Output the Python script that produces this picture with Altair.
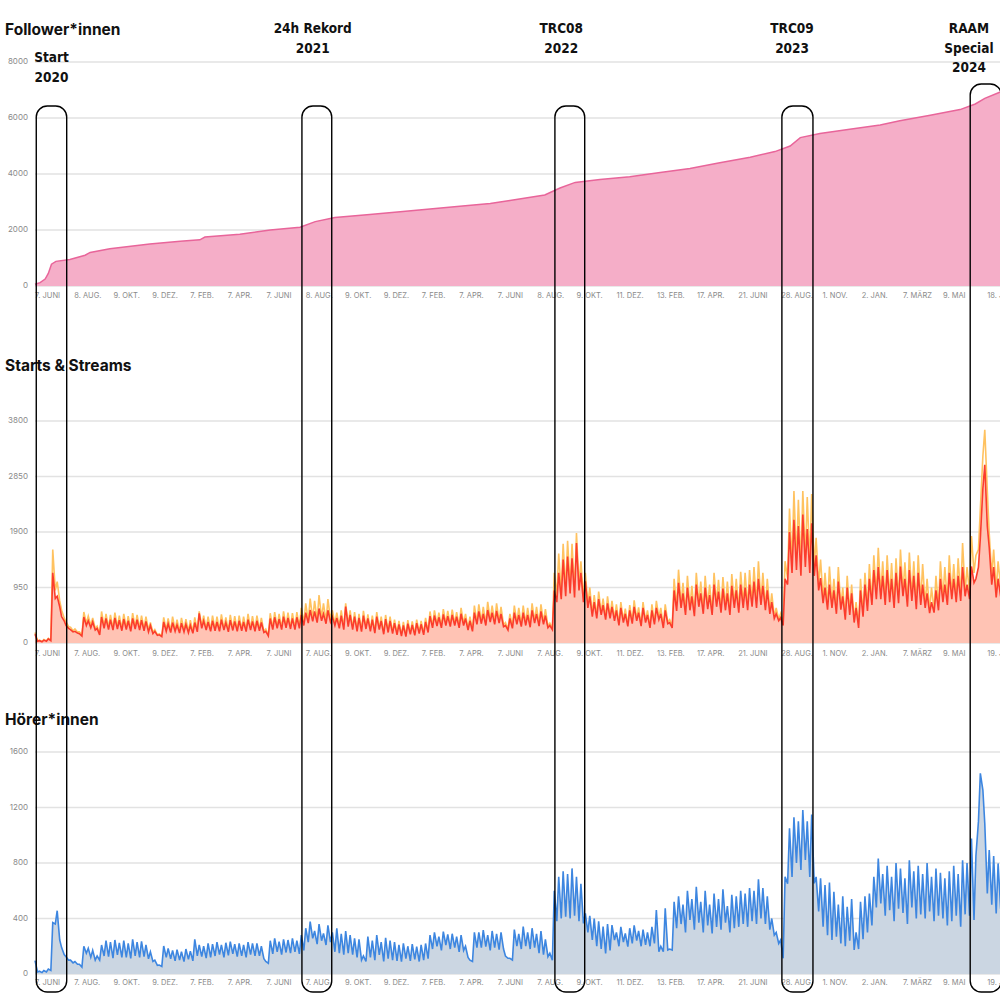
import altair as alt
import pandas as pd

# ---------------- data ----------------
SERIES_START = "2020-06-07"   # first weekly point

# weekly peak / trough values (starts = orange, streams = red, listeners = blue)
RED_PEAK = [
    150, 40, 50, 70, 1200, 800, 450, 300, 230, 200,
    160, 445, 380, 360, 250, 445, 420, 400, 430, 390,
    410, 380, 420, 400, 390, 370, 300, 200, 140, 360,
    330, 350, 310, 340, 320, 300, 350, 507, 380, 360,
    380, 360, 400, 350, 390, 370, 380, 360, 400, 370,
    380, 350, 200, 420, 440, 410, 450, 430, 420, 440,
    480, 520, 565, 540, 590, 500, 560, 450, 430, 470,
    622, 480, 450, 430, 470, 420, 400, 450, 380, 410,
    380, 340, 320, 300, 330, 310, 340, 320, 360, 460,
    470, 440, 490, 460, 480, 450, 500, 420, 380, 520,
    540, 500, 565, 520, 550, 500, 300, 420, 520, 480,
    520, 480, 560, 500, 540, 470, 300, 900, 1200, 1430,
    1480, 1450, 1710, 1200, 1055, 800, 700, 750, 650, 680,
    620, 560, 600, 500, 560, 620, 520, 600, 480, 560,
    600, 500, 560, 350, 900, 1030, 850, 950, 800, 1000,
    850, 950, 820, 1000, 880, 930, 850, 980, 900, 1000,
    950, 1000, 1050, 1100, 980, 900, 700, 500, 430, 1100,
    1900, 2110, 2000, 2200, 1950, 2050, 1500, 1110, 950, 1000,
    900, 1050, 800, 950, 850, 600, 900, 1000, 1100, 1250,
    1300, 1150, 1250, 1100, 1200, 1310, 1100, 1250, 1150, 1200,
    1000, 850, 700, 900, 1100, 1000, 1200, 1100, 1150, 1300,
    1000, 1310, 1100, 1800, 3050, 1640, 1300, 1100, 1000, 900,
]
RED_TROUGH = [
    30, 20, 30, 40, 760, 620, 380, 250, 190, 170,
    120, 300, 260, 220, 137, 250, 230, 220, 240, 210,
    230, 200, 240, 220, 210, 190, 160, 130, 110, 200,
    180, 200, 170, 190, 175, 165, 190, 250, 220, 200,
    210, 200, 220, 190, 215, 200, 210, 195, 220, 200,
    210, 180, 120, 230, 250, 230, 260, 240, 230, 250,
    300, 340, 370, 350, 380, 330, 360, 300, 250, 230,
    280, 230, 200, 194, 240, 200, 170, 230, 150, 180,
    160, 140, 120, 110, 150, 130, 160, 140, 180, 260,
    290, 260, 300, 280, 300, 260, 300, 220, 200, 320,
    330, 300, 360, 320, 340, 280, 222, 250, 320, 280,
    300, 270, 340, 290, 320, 260, 230, 700, 750, 800,
    850, 780, 900, 700, 600, 450, 420, 480, 400, 420,
    380, 300, 350, 285, 330, 380, 290, 350, 260, 320,
    400, 257, 330, 257, 550, 600, 480, 560, 460, 620,
    500, 580, 480, 620, 520, 560, 480, 600, 520, 600,
    560, 620, 600, 650, 560, 500, 420, 380, 300, 1000,
    1200, 1250, 1150, 1300, 1200, 1150, 900, 680, 570, 600,
    500, 570, 400, 480, 350, 257, 450, 550, 650, 750,
    750, 650, 700, 600, 680, 800, 620, 720, 580, 650,
    600, 510, 520, 560, 700, 650, 750, 700, 720, 800,
    750, 1030, 1300, 2650, 2000, 1000, 780, 800, 750, 700,
]
ORANGE_PEAK = [
    180, 50, 60, 80, 1600, 1050, 560, 360, 270, 240,
    190, 530, 460, 430, 290, 540, 500, 480, 520, 470,
    500, 460, 510, 480, 470, 450, 350, 230, 160, 440,
    420, 450, 400, 430, 410, 390, 440, 540, 470, 450,
    470, 450, 490, 440, 480, 460, 470, 450, 500, 460,
    470, 430, 240, 510, 530, 500, 540, 520, 510, 530,
    600, 680, 760, 720, 822, 680, 750, 560, 520, 560,
    679, 560, 530, 500, 550, 490, 470, 530, 450, 480,
    450, 400, 380, 360, 390, 370, 400, 380, 430, 540,
    560, 520, 580, 550, 570, 530, 600, 500, 450, 640,
    660, 620, 705, 640, 680, 620, 350, 500, 640, 600,
    640, 600, 680, 620, 660, 580, 340, 1200, 1530, 1700,
    1750, 1700, 1883, 1400, 1200, 950, 820, 880, 760, 800,
    720, 660, 700, 590, 650, 730, 610, 700, 560, 660,
    720, 600, 660, 400, 1100, 1255, 1030, 1150, 980, 1200,
    1050, 1150, 1000, 1200, 1080, 1130, 1050, 1180, 1100, 1220,
    1200, 1250, 1300, 1400, 1200, 1100, 850, 600, 500, 1400,
    2300, 2600, 2450, 2600, 2500, 2550, 1800, 1430, 1200, 1310,
    1100, 1300, 950, 1150, 1000, 700, 1100, 1200, 1350, 1500,
    1630, 1400, 1500, 1370, 1450, 1600, 1380, 1550, 1400, 1500,
    1350, 1100, 950, 1150, 1400, 1300, 1500, 1350, 1450, 1710,
    1300, 1830, 1500, 2300, 3650, 1880, 1600, 1400, 1300, 1200,
]
ORANGE_TROUGH = [
    40, 25, 35, 45, 900, 720, 430, 280, 210, 190,
    140, 340, 300, 250, 150, 280, 260, 250, 270, 240,
    260, 230, 270, 250, 240, 220, 180, 140, 120, 220,
    200, 220, 190, 210, 195, 185, 210, 280, 240, 220,
    230, 220, 240, 210, 235, 220, 230, 215, 240, 220,
    230, 200, 130, 250, 270, 250, 280, 260, 250, 270,
    340, 380, 410, 390, 420, 370, 400, 330, 280, 260,
    310, 250, 220, 210, 260, 220, 190, 250, 165, 200,
    180, 160, 135, 125, 170, 150, 180, 160, 200, 280,
    320, 290, 330, 310, 330, 290, 330, 240, 220, 350,
    360, 330, 390, 350, 370, 310, 240, 280, 350, 310,
    330, 300, 370, 320, 350, 290, 250, 800, 850, 900,
    950, 880, 1000, 780, 660, 490, 450, 520, 430, 450,
    410, 320, 380, 300, 360, 410, 310, 380, 280, 340,
    440, 280, 360, 280, 600, 650, 520, 610, 500, 670,
    540, 630, 520, 670, 560, 610, 520, 650, 560, 650,
    600, 670, 650, 700, 600, 540, 450, 400, 320, 1100,
    1350, 1400, 1300, 1450, 1350, 1300, 1000, 750, 620, 650,
    550, 620, 430, 520, 380, 280, 480, 600, 700, 800,
    820, 700, 760, 640, 730, 860, 660, 780, 620, 700,
    650, 550, 560, 600, 760, 700, 810, 750, 780, 860,
    850, 1200, 1600, 3200, 2600, 1150, 900, 950, 880, 820,
]
BLUE_PEAK = [
    96, 20, 25, 35, 370, 456, 190, 125, 100, 90,
    70, 200, 185, 170, 130, 209, 240, 230, 245, 225,
    240, 220, 250, 230, 235, 210, 160, 100, 65, 202,
    185, 170, 175, 160, 180, 165, 250, 210, 200, 220,
    215, 230, 210, 225, 233, 215, 220, 210, 230, 220,
    220, 200, 90, 240, 257, 233, 250, 245, 257, 240,
    280, 330, 377, 310, 360, 293, 350, 300, 329, 290,
    310, 280, 257, 250, 130, 270, 240, 281, 230, 260,
    240, 230, 210, 221, 200, 215, 197, 210, 220, 280,
    300, 269, 305, 285, 290, 270, 280, 200, 100, 300,
    300, 317, 281, 310, 290, 300, 130, 113, 320, 290,
    341, 300, 330, 290, 310, 250, 150, 600, 700, 740,
    720, 761, 700, 650, 437, 420, 400, 380, 341, 360,
    353, 300, 340, 293, 330, 350, 310, 320, 300, 340,
    461, 200, 473, 180, 520, 560, 500, 600, 540, 629,
    520, 600, 500, 580, 540, 610, 490, 570, 560, 600,
    580, 620, 600, 682, 620, 560, 400, 300, 245, 701,
    1050, 1130, 1100, 1182, 1100, 1150, 700, 689, 641, 660,
    593, 500, 560, 485, 540, 300, 520, 560, 580, 700,
    833, 720, 780, 700, 800, 760, 690, 820, 740, 780,
    720, 800, 700, 760, 730, 690, 740, 780, 720, 820,
    800, 977, 850, 1446, 1085, 893, 850, 797, 800, 780,
]
BLUE_TROUGH = [
    15, 10, 15, 25, 360, 245, 140, 100, 80, 70,
    50, 150, 120, 100, 100, 130, 125, 115, 137, 120,
    120, 113, 130, 120, 125, 110, 90, 62, 55, 120,
    110, 95, 100, 89, 105, 95, 130, 125, 115, 120,
    130, 140, 120, 135, 145, 125, 130, 120, 140, 130,
    130, 110, 77, 145, 160, 140, 155, 150, 160, 145,
    170, 230, 257, 215, 240, 209, 230, 160, 150, 140,
    150, 140, 120, 100, 90, 120, 100, 137, 90, 110,
    100, 95, 89, 110, 95, 105, 90, 100, 110, 180,
    200, 170, 209, 180, 190, 160, 170, 120, 90, 190,
    190, 197, 170, 190, 175, 180, 113, 100, 200, 180,
    200, 180, 190, 150, 140, 125, 100, 380, 400, 413,
    400, 420, 380, 365, 300, 245, 200, 180, 149, 170,
    245, 200, 230, 197, 220, 240, 200, 210, 200, 220,
    161, 161, 173, 173, 330, 360, 300, 389, 320, 370,
    300, 350, 293, 340, 320, 370, 300, 330, 340, 360,
    340, 380, 360, 400, 360, 320, 280, 220, 113, 650,
    700, 800, 750, 822, 700, 653, 450, 341, 280, 245,
    269, 220, 200, 240, 173, 180, 250, 300, 350, 480,
    509, 420, 460, 380, 470, 440, 360, 480, 400, 430,
    400, 450, 380, 420, 400, 350, 380, 420, 340, 430,
    420, 389, 1100, 1326, 581, 500, 437, 470, 450, 440,
]

FOLLOWER_DATES = [
    "2020-06-07", "2020-06-15", "2020-06-23", "2020-06-28", "2020-07-03",
    "2020-07-10", "2020-08-01", "2020-08-25", "2020-09-02", "2020-10-03",
    "2020-12-05", "2021-01-22", "2021-02-22", "2021-03-02", "2021-04-26",
    "2021-06-13", "2021-07-30", "2021-08-23", "2021-09-23", "2021-11-17",
    "2022-01-04", "2022-02-20", "2022-04-08", "2022-05-26", "2022-06-26",
    "2022-08-20", "2022-09-13", "2022-10-07", "2022-11-15", "2023-01-01",
    "2023-02-18", "2023-04-06", "2023-05-23", "2023-07-10", "2023-08-18",
    "2023-09-11", "2023-09-27", "2023-10-28", "2023-12-14", "2024-01-31",
    "2024-03-02", "2024-04-19", "2024-06-05", "2024-06-29", "2024-07-14",
    "2024-08-10",
]
FOLLOWER_VALUES = [
    60, 120, 250, 450, 780,
    880, 950, 1100, 1200, 1330,
    1500, 1600, 1650, 1750, 1850,
    2000, 2100, 2300, 2450, 2550,
    2650, 2750, 2850, 2950, 3050,
    3250, 3500, 3700, 3800, 3900,
    4050, 4200, 4400, 4600, 4800,
    5000, 5300, 5450, 5600, 5750,
    5900, 6100, 6300, 6500, 6700,
    6950,
]

TICK_DATES = [
    "2020-06-07", "2020-08-08", "2020-10-09", "2020-12-09", "2021-02-07",
    "2021-04-07", "2021-06-07", "2021-08-08", "2021-10-09", "2021-12-09",
    "2022-02-07", "2022-04-07", "2022-06-07", "2022-08-08", "2022-10-09",
    "2022-12-11", "2023-02-13", "2023-04-17", "2023-06-21", "2023-08-28",
    "2023-11-01", "2024-01-02", "2024-03-07", "2024-05-09", "2024-07-18",
]
TOP_TICK_LABELS = [
    "7. JUNI", "8. AUG.", "9. OKT.", "9. DEZ.", "7. FEB.",
    "7. APR.", "7. JUNI", "8. AUG.", "9. OKT.", "9. DEZ.",
    "7. FEB.", "7. APR.", "7. JUNI", "8. AUG.", "9. OKT.",
    "11. DEZ.", "13. FEB.", "17. APR.", "21. JUNI", "28. AUG.",
    "1. NOV.", "2. JAN.", "7. MÄRZ", "9. MAI", "18. JULI",
]
LOWER_TICK_LABELS = [
    "7. JUNI", "7. AUG.", "9. OKT.", "9. DEZ.", "7. FEB.",
    "7. APR.", "7. JUNI", "7. AUG.", "9. OKT.", "9. DEZ.",
    "7. FEB.", "7. APR.", "7. JUNI", "7. AUG.", "9. OKT.",
    "11. DEZ.", "13. FEB.", "17. APR.", "21. JUNI", "28. AUG.",
    "1. NOV.", "2. JAN.", "7. MÄRZ", "9. MAI", "19. JULI",
]

FOLLOWER_TICKS = [0, 2000, 4000, 6000, 8000]
STARTS_TICKS = [0, 950, 1900, 2850, 3800]
LISTENER_TICKS = [0, 400, 800, 1200, 1600]

PANEL_TITLES = ["Follower*innen", "Starts & Streams", "Hörer*innen"]

EVENT_LABELS = ["Start\n2020", "24h Rekord\n2021", "TRC08\n2022", "TRC09\n2023", "RAAM\nSpecial\n2024"]
EVENT_TEXT_DATES = ["2020-07-03", "2021-08-19", "2022-09-15", "2023-09-14", "2024-06-19"]
EVENT_BOX_START = ["2020-06-09", "2021-08-02", "2022-09-05", "2023-08-29", "2024-06-21"]
EVENT_BOX_END = ["2020-07-27", "2021-09-18", "2022-10-22", "2023-10-17", "2024-08-09"]

# ---------------- tables ----------------
start = pd.Timestamp(SERIES_START)
rows = []
for i in range(len(RED_PEAK)):
    d = start + pd.Timedelta(days=7 * i)
    rows.append({"date": d, "starts": ORANGE_PEAK[i], "streams": RED_PEAK[i], "listeners": BLUE_PEAK[i]})
    rows.append({"date": d + pd.Timedelta(days=4), "starts": ORANGE_TROUGH[i],
                 "streams": RED_TROUGH[i], "listeners": BLUE_TROUGH[i]})
daily = pd.DataFrame(rows)

followers = pd.DataFrame({"date": pd.to_datetime(FOLLOWER_DATES), "followers": FOLLOWER_VALUES})
ticks_top = pd.DataFrame({"date": pd.to_datetime(TICK_DATES), "label": TOP_TICK_LABELS})
ticks_low = pd.DataFrame({"date": pd.to_datetime(TICK_DATES), "label": LOWER_TICK_LABELS})
events = pd.DataFrame({
    "label": EVENT_LABELS,
    "tdate": pd.to_datetime(EVENT_TEXT_DATES),
    "s": pd.to_datetime(EVENT_BOX_START),
    "e": pd.to_datetime(EVENT_BOX_END),
})

# ---------------- scales ----------------
x_scale = alt.Scale(
    domain=[alt.DateTime(year=2020, month=6, date=7), alt.DateTime(year=2024, month=8, date=7)],
    range=[35, 1000],
)
fol_scale = alt.Scale(domain=[0, 8000], range=[286, 62], nice=False)
ss_scale = alt.Scale(domain=[0, 3800], range=[643, 421], nice=False)
hl_scale = alt.Scale(domain=[0, 1600], range=[974, 752], nice=False)

X = lambda f: alt.X(f, type="temporal", scale=x_scale, axis=None)

TICK_FONT = "Inter"
GRID = "#e2e2e2"
LABEL_GRAY = "#8a8a8a"
EVENT_FONT = ("'Liberation Sans Narrow', 'DejaVu Sans Condensed', 'Roboto Condensed', "
              "'Arial Narrow', Roboto, sans-serif")


def grid_and_labels(values, scale):
    df = pd.DataFrame({"v": values})
    g = alt.Chart(df).mark_rule(color=GRID, strokeWidth=1.5).encode(
        y=alt.Y("v:Q", scale=scale, axis=None), x=alt.value(35), x2=alt.value(1000))
    t = alt.Chart(df).mark_text(align="right", baseline="middle", font=TICK_FONT, fontSize=8,
                                color=LABEL_GRAY).encode(
        y=alt.Y("v:Q", scale=scale, axis=None), x=alt.value(28), text=alt.Text("v:Q", format="d"))
    return [g, t]


def x_labels(df, ypix):
    return alt.Chart(df).mark_text(align="left", baseline="alphabetic", font=TICK_FONT, fontSize=7.5,
                                   color=LABEL_GRAY).encode(
        x=X("date"), y=alt.value(ypix), text="label:N")


layers = []
layers += grid_and_labels(FOLLOWER_TICKS, fol_scale)
layers += grid_and_labels(STARTS_TICKS, ss_scale)
layers += grid_and_labels(LISTENER_TICKS, hl_scale)

# followers
layers.append(alt.Chart(followers).mark_area(color="#f5aec8", opacity=1, clip=True).encode(
    x=X("date"), y=alt.Y("followers:Q", scale=fol_scale, axis=None)))
layers.append(alt.Chart(followers).mark_line(color="#e8659a", strokeWidth=1.5, clip=True).encode(
    x=X("date"), y=alt.Y("followers:Q", scale=fol_scale, axis=None)))

# starts & streams
layers.append(alt.Chart(daily).mark_line(color="#ffc260", strokeWidth=1.6, clip=True).encode(
    x=X("date"), y=alt.Y("starts:Q", scale=ss_scale, axis=None)))
layers.append(alt.Chart(daily).mark_area(color="#ffc3b4", opacity=1, clip=True).encode(
    x=X("date"), y=alt.Y("streams:Q", scale=ss_scale, axis=None)))
layers.append(alt.Chart(daily).mark_line(color="#fb3c2c", strokeWidth=1.6, clip=True).encode(
    x=X("date"), y=alt.Y("streams:Q", scale=ss_scale, axis=None)))

# listeners
layers.append(alt.Chart(daily).mark_area(color="#cbd6e2", opacity=1, clip=True).encode(
    x=X("date"), y=alt.Y("listeners:Q", scale=hl_scale, axis=None)))
layers.append(alt.Chart(daily).mark_line(color="#3d86e0", strokeWidth=1.6, clip=True).encode(
    x=X("date"), y=alt.Y("listeners:Q", scale=hl_scale, axis=None)))

# x labels
layers.append(x_labels(ticks_top, 297.5))
layers.append(x_labels(ticks_low, 656))
layers.append(x_labels(ticks_low, 985))

# titles
for title, ypix in zip(PANEL_TITLES, [35, 371, 725]):
    layers.append(alt.Chart(pd.DataFrame({"t": [title]})).mark_text(
        align="left", baseline="alphabetic", font="Inter", fontSize=15.5, fontWeight="bold",
        color="#111111").encode(x=alt.value(5), y=alt.value(ypix), text="t:N"))

# event boxes
box_style = dict(fillOpacity=0, stroke="black", strokeWidth=1.4, cornerRadius=11)
layers.append(alt.Chart(events.iloc[:4]).mark_rect(**box_style).encode(
    x=X("s"), x2="e", y=alt.value(106), y2=alt.value(992)))
layers.append(alt.Chart(events.iloc[4:]).mark_rect(**box_style).encode(
    x=X("s"), x2="e", y=alt.value(84), y2=alt.value(992)))

# event labels
ev_style = dict(align="center", baseline="alphabetic", font=EVENT_FONT, fontSize=13.5,
                fontWeight="bold", lineBreak="\n", lineHeight=19.5, color="#111111")
layers.append(alt.Chart(events.iloc[:1]).mark_text(**ev_style).encode(
    x=X("tdate"), y=alt.value(62), text="label:N"))
layers.append(alt.Chart(events.iloc[1:]).mark_text(**ev_style).encode(
    x=X("tdate"), y=alt.value(33), text="label:N"))

chart = alt.layer(*layers).resolve_scale(y="independent").properties(
    width=1000, height=1000, padding=0,
    autosize=alt.AutoSizeParams(type="none"),
    background="white",
).configure_view(strokeWidth=0)

chart.save("out.html", embed_options={"renderer": "svg", "actions": False})
